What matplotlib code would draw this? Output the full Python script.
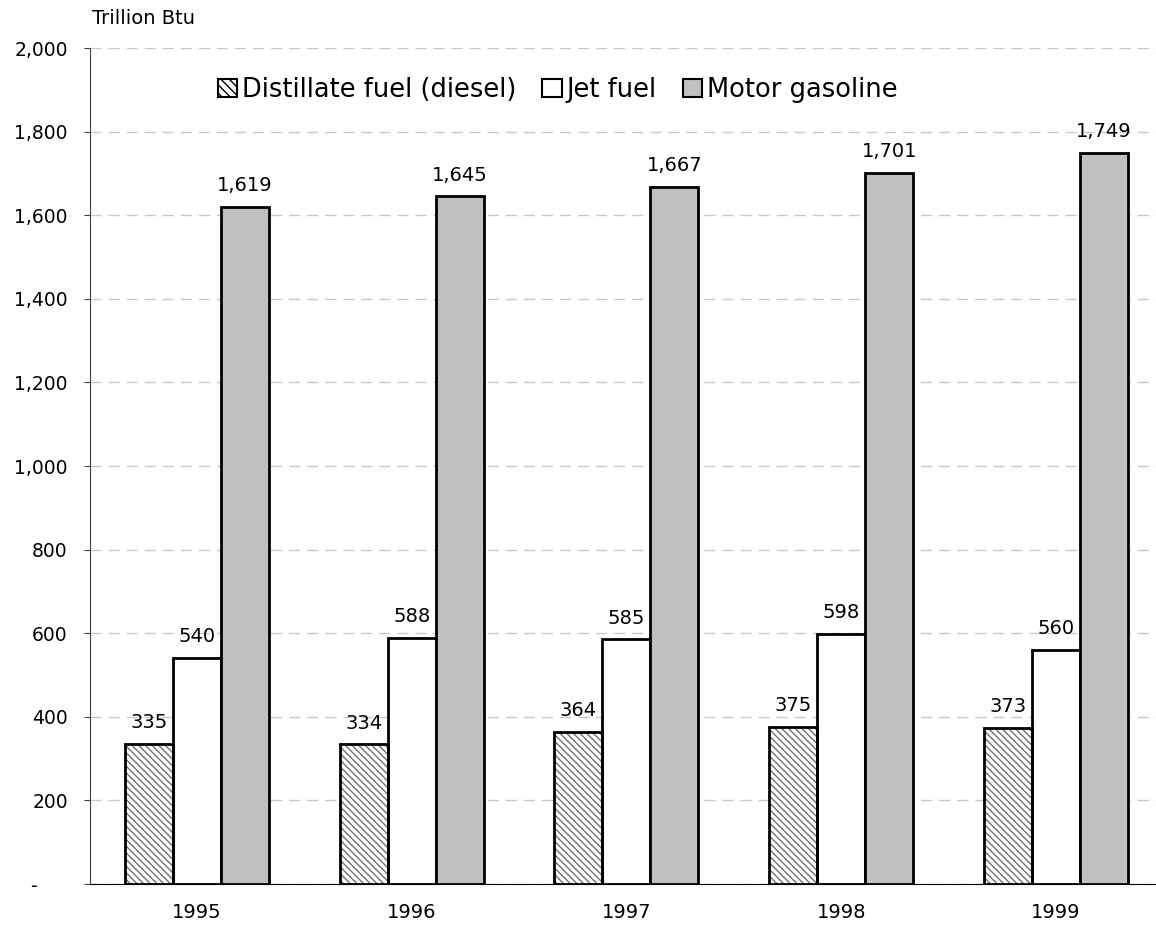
import numpy as np
import matplotlib.pyplot as plt
from matplotlib.patches import Patch

# ------------------------- data --------------------------------
years = ['1995', '1996', '1997', '1998', '1999']
diesel = [335, 334, 364, 375, 373]
jet = [540, 588, 585, 598, 560]
gasoline = [1619, 1645, 1667, 1701, 1749]

yticks = [0, 200, 400, 600, 800, 1000, 1200, 1400, 1600, 1800, 2000]

# ------------------------- plot --------------------------------
W, H = 1156, 930
fig = plt.figure(figsize=(W / 100, H / 100), dpi=100)
ax = fig.add_axes([90 / W, (H - 884) / H, (W - 90) / W, (884 - 48) / H])

x = np.arange(len(years))
w = 0.2235

# diesel: gray hatch, then black outline on top
ax.bar(x - w, diesel, w, color='white', edgecolor='#707070', hatch='\\\\\\\\\\', linewidth=0, zorder=3)
ax.bar(x - w, diesel, w, fill=False, edgecolor='black', linewidth=2, zorder=4)
ax.bar(x, jet, w, color='white', edgecolor='black', linewidth=2, zorder=3)
ax.bar(x + w, gasoline, w, color='#c0c0c0', edgecolor='black', linewidth=2, zorder=3)

for xs, vals in [(x - w, diesel), (x, jet), (x + w, gasoline)]:
    for xi, v in zip(xs, vals):
        ax.text(xi, v + 38, '{:,}'.format(v), ha='center', va='baseline', fontsize=14)

ax.set_xlim(-0.498, 4.466)
ax.set_ylim(0, 2000)
ax.set_xticks(x)
ax.set_xticklabels(years, fontsize=14)
ax.tick_params(axis='x', length=0, pad=14)
ax.set_yticks(yticks)
ax.set_yticklabels(['-     '] + ['{:,}'.format(t) for t in yticks[1:]], fontsize=13.5)
ax.tick_params(axis='y', length=4, pad=12, color='#404040')

ax.grid(axis='y', color='#c8c8c8', linestyle=(0, (8, 5)), linewidth=1, zorder=0)
ax.spines['top'].set_visible(False)
ax.spines['right'].set_visible(False)
ax.spines['left'].set_color('#404040')

fig.text(92 / W, 1 - 18 / H, 'Trillion Btu', fontsize=14, va='center')

handles = [Patch(facecolor='white', edgecolor='black', hatch='\\\\\\\\', linewidth=1.5),
           Patch(facecolor='white', edgecolor='black', linewidth=1.5),
           Patch(facecolor='#c0c0c0', edgecolor='black', linewidth=1.5)]
ax.legend(handles, ['Distillate fuel (diesel)', 'Jet fuel', 'Motor gasoline'],
          loc='center left', bbox_to_anchor=(0.12, 1 - 42 / (884 - 48)),
          ncol=3, frameon=False, fontsize=18.5, handlelength=0.75, handleheight=0.75,
          handletextpad=0.2, columnspacing=1.0, borderpad=0, borderaxespad=0)

fig.savefig('out.png', dpi=100)
